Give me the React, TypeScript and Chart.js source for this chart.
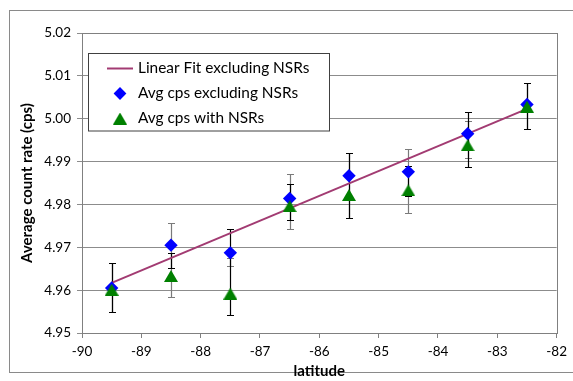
import { useEffect, useRef } from "react";
import { Chart, registerables } from "chart.js";

Chart.register(...registerables);

const latitudes = [-89.5, -88.5, -87.5, -86.5, -85.5, -84.5, -83.5, -82.5];
const avgExcl = [4.9605, 4.9705, 4.9687, 4.9814, 4.9867, 4.9876, 4.9965, 5.0033];
const avgWith = [4.9601, 4.9633, 4.9592, 4.9796, 4.9822, 4.9833, 4.9938, 5.0028];
const fitX = [-89.5, -82.5];
const fitY = [4.9617, 5.0023];
const errGreyHigh = [4.9664, 4.9756, 4.9674, 4.9871, 4.992, 4.9929, 4.9994, 5.0083];
const errGreyLow = [4.9549, 4.9584, 4.9656, 4.9743, 4.9769, 4.9781, 4.9908, 4.9975];
const errBlackHigh = [4.9664, 4.9687, 4.9743, 4.9848, 4.992, 4.9889, 5.0015, 5.0083];
const errBlackLow = [4.9549, 4.9651, 4.9542, 4.9763, 4.9769, 4.982, 4.9887, 4.9975];
const seriesLabels = ["Linear Fit excluding NSRs", "Avg cps excluding NSRs", "Avg cps with NSRs"];
const xTitle = "latitude";
const yTitle = "Average count rate (cps)";
const xMin = -90;
const xMax = -82;
const yMin = 4.95;
const yMax = 5.02;

const FONT = "Lato, 'DejaVu Sans', sans-serif";
const LINE_COLOR = "#A23B72";
const BLUE = "#0000FF";
const GREEN = "#008000";

function makeTriangle(): HTMLCanvasElement {
  const c = document.createElement("canvas");
  c.width = 14;
  c.height = 12;
  const g = c.getContext("2d")!;
  g.fillStyle = GREEN;
  g.beginPath();
  g.moveTo(7, 0);
  g.lineTo(14, 12);
  g.lineTo(0, 12);
  g.closePath();
  g.fill();
  return c;
}

export default function App() {
  const ref = useRef<HTMLCanvasElement>(null);

  useEffect(() => {
    document.body.style.margin = "0";
    const tri = makeTriangle();

    const errorBars = {
      id: "errorBars",
      beforeDatasetsDraw(chart: any) {
        const ctx = chart.ctx;
        const xs = chart.scales.x;
        const ys = chart.scales.y;
        const drawSet = (hi: number[], lo: number[], color: string) => {
          ctx.save();
          ctx.strokeStyle = color;
          ctx.lineWidth = 1.2;
          latitudes.forEach((lat, i) => {
            const x = Math.round(xs.getPixelForValue(lat)) + 0.5;
            const yh = Math.round(ys.getPixelForValue(hi[i])) + 0.5;
            const yl = Math.round(ys.getPixelForValue(lo[i])) + 0.5;
            ctx.beginPath();
            ctx.moveTo(x, yh);
            ctx.lineTo(x, yl);
            ctx.moveTo(x - 3.5, yh);
            ctx.lineTo(x + 3.5, yh);
            ctx.moveTo(x - 3.5, yl);
            ctx.lineTo(x + 3.5, yl);
            ctx.stroke();
          });
          ctx.restore();
        };
        drawSet(errGreyHigh, errGreyLow, "#7a7a7a");
        drawSet(errBlackHigh, errBlackLow, "#000000");
      },
      afterDraw(chart: any) {
        const ctx = chart.ctx;
        const a = chart.chartArea;
        ctx.save();
        ctx.strokeStyle = "#808080";
        ctx.lineWidth = 1;
        ctx.strokeRect(Math.round(a.left) + 0.5, Math.round(a.top) + 0.5, Math.round(a.right - a.left), Math.round(a.bottom - a.top));
        // legend
        const bx = 88.5, by = 53.5, bw = 241, bh = 77.5;
        ctx.fillStyle = "#ffffff";
        ctx.fillRect(bx, by, bw, bh);
        ctx.strokeStyle = "#404040";
        ctx.strokeRect(bx, by, bw, bh);
        const rows = [68.5, 93.5, 118.5];
        ctx.font = "15.4px " + FONT;
        ctx.fillStyle = "#000";
        ctx.textBaseline = "middle";
        ctx.textAlign = "left";
        seriesLabels.forEach((t, i) => ctx.fillText(t, 138, rows[i]));
        ctx.strokeStyle = LINE_COLOR;
        ctx.lineWidth = 2;
        ctx.beginPath();
        ctx.moveTo(107, rows[0]);
        ctx.lineTo(133, rows[0]);
        ctx.stroke();
        ctx.fillStyle = BLUE;
        ctx.beginPath();
        const r = 6.4;
        ctx.moveTo(120 - r, rows[1]);
        ctx.lineTo(120, rows[1] - r);
        ctx.lineTo(120 + r, rows[1]);
        ctx.lineTo(120, rows[1] + r);
        ctx.closePath();
        ctx.fill();
        ctx.drawImage(tri, 120 - 7, rows[2] - 6);
        ctx.restore();
      },
    };

    const chart = new Chart(ref.current!, {
      type: "scatter",
      data: {
        datasets: [
          {
            label: seriesLabels[2],
            data: latitudes.map((x, i) => ({ x, y: avgWith[i] })),
            pointStyle: tri as any,
            pointRadius: 7,
            backgroundColor: GREEN,
            borderColor: GREEN,
            order: 0,
          },
          {
            label: seriesLabels[1],
            data: latitudes.map((x, i) => ({ x, y: avgExcl[i] })),
            pointStyle: "rectRot",
            pointRadius: 6.7,
            pointBorderWidth: 0,
            backgroundColor: BLUE,
            borderColor: BLUE,
            order: 1,
          },
          {
            type: "line",
            label: seriesLabels[0],
            data: fitX.map((x, i) => ({ x, y: fitY[i] })),
            borderColor: LINE_COLOR,
            borderWidth: 2,
            pointRadius: 0,
            showLine: true,
            order: 2,
          } as any,
        ],
      },
      options: {
        animation: false,
        responsive: false,
        maintainAspectRatio: false,
        layout: { padding: { top: 33, right: 14, left: 0, bottom: 0 } },
        plugins: { legend: { display: false }, tooltip: { enabled: false } },
        scales: {
          x: {
            type: "linear",
            min: xMin,
            max: xMax,
            afterFit: (s: any) => {
              s.height = 48;
            },
            ticks: { stepSize: 1, font: { family: FONT, size: 13.5 }, color: "#000", padding: 6 },
            grid: { drawOnChartArea: false, drawTicks: true, tickLength: 5, color: "#808080" },
            border: { display: true, color: "#808080" },
            title: { display: true, text: xTitle, font: { family: FONT, size: 15, weight: "bold" }, color: "#000", padding: { top: 0, bottom: 1 } },
          },
          y: {
            min: yMin,
            max: yMax,
            afterFit: (s: any) => {
              s.width = 82;
            },
            ticks: { stepSize: 0.01, font: { family: FONT, size: 13.5 }, color: "#000", padding: 6, callback: (v: any) => Number(v).toFixed(2) },
            grid: { drawTicks: true, tickLength: 5, color: "#8c8c8c" },
            border: { display: true, color: "#808080" },
            title: { display: true, text: yTitle, font: { family: FONT, size: 15, weight: "bold" }, color: "#000", padding: { top: 18, bottom: 0 } },
          },
        },
      },
      plugins: [errorBars],
    });
    return () => chart.destroy();
  }, []);

  return (
    <div style={{ position: "relative", width: 573, height: 381, background: "#fff" }}>
      <div style={{ position: "absolute", left: 9, top: 10, width: 580, height: 363, borderLeft: "1px solid #8a8a8a", borderTop: "1px solid #8a8a8a", borderBottom: "1px solid #8a8a8a", boxSizing: "border-box" }} />
      <canvas ref={ref} width={573} height={381} style={{ position: "absolute", left: 0, top: 0, width: 573, height: 381 }} />
    </div>
  );
}
